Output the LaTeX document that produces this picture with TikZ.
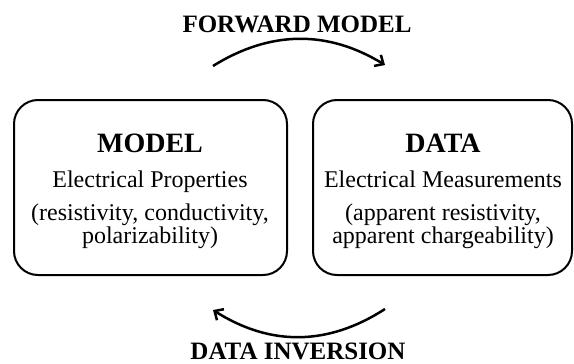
\documentclass[tikz,border=0pt]{standalone}
\usepackage{fontspec}
\setmainfont{Liberation Serif}
\usetikzlibrary{arrows.meta}
\begin{document}
\begin{tikzpicture}[x=1pt,y=-1pt,
  box/.style={draw=black,line width=2pt,rounded corners=24pt},
  head/.style={anchor=base,font=\fontsize{28}{30}\selectfont\bfseries,inner sep=0pt},
  title/.style={anchor=base,font=\fontsize{25}{27}\selectfont\bfseries,inner sep=0pt},
  body/.style={anchor=base,font=\fontsize{24}{26}\selectfont,inner sep=0pt},
  flow/.style={line width=2.5pt,-{Straight Barb[length=7pt,width=13pt]}}]
\useasboundingbox (0,0) rectangle (574,364);
% boxes
\node[box,minimum width=273pt,minimum height=175pt] (model) at (150.5,187.5) {};
\node[box,minimum width=259pt,minimum height=175pt] (data) at (442.5,187.5) {};
% model text
\node[head] (mt) at (150,152) {MODEL};
\node[body] (m1) at (150,187) {Electrical Properties};
\node[body] (m2) at (150,220) {(resistivity, conductivity,};
\node[body] (m3) at (150,243) {polarizability)};
% data text
\node[head] (dt) at (443,152) {DATA};
\node[body] (d1) at (443,187) {Electrical Measurements};
\node[body] (d2) at (443,220) {(apparent resistivity,};
\node[body] (d3) at (443,243) {apparent chargeability)};
% titles
\node[title] (fw) at (297,32) {FORWARD MODEL};
\node[title] (inv) at (298,359.5) {DATA INVERSION};
% arrows
\coordinate (fa) at (213,66);
\coordinate (fb) at (385,65);
\coordinate (ia) at (385,309);
\coordinate (ib) at (213,310);
\draw[flow] (fa) .. controls (270.3,30.3) and (327.7,30) .. (fb);
\draw[flow] (ia) .. controls (327.7,346) and (270.3,346.3) .. (ib);
\end{tikzpicture}
\end{document}
